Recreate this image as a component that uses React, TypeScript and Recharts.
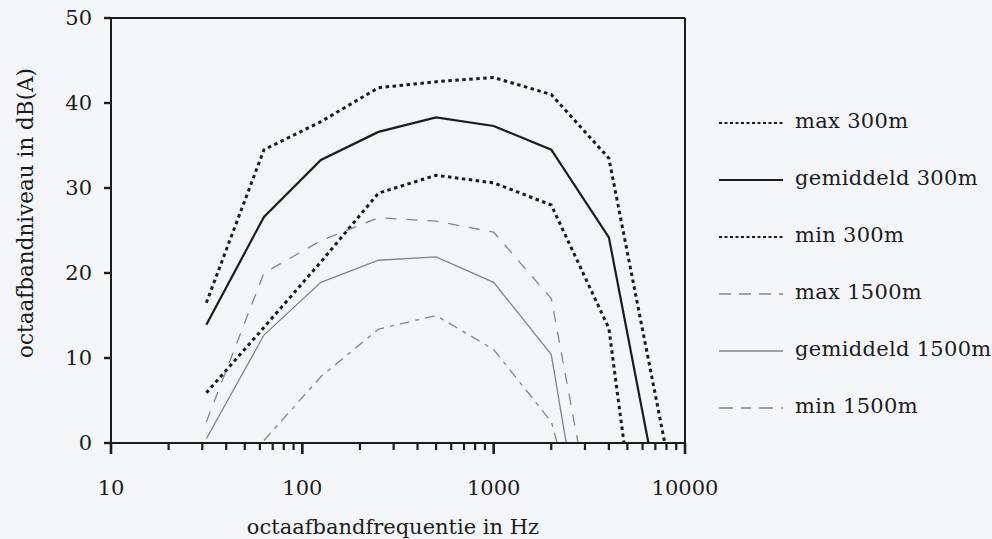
import { LineChart, Line, XAxis, YAxis, ReferenceLine, Label } from 'recharts';

// octave band centre frequencies (Hz)
const FREQS = [31.5, 63, 125, 250, 500, 1000, 2000, 4000, 8000];

// levels in dB(A); values below 0 run off the bottom of the plot
const MAX_300 = [16.5, 34.5, 37.8, 41.8, 42.5, 43, 41, 33.5, -1];
const MEAN_300 = [13.9, 26.6, 33.3, 36.6, 38.3, 37.3, 34.5, 24.2, -11];
const MIN_300 = [5.9, 13.6, 21.3, 29.4, 31.5, 30.6, 28, 13.5, -38];
const MAX_1500 = [2.5, 20, 23.8, 26.5, 26.1, 24.8, 17, -19.5, null];
const MEAN_1500 = [0.5, 12.7, 18.9, 21.5, 21.9, 18.9, 10.4, -29.6, null];
const MIN_1500 = [null, 0.3, 7.8, 13.4, 15, 11, 2.5, -21.7, null];

const Y_TICKS = [0, 10, 20, 30, 40, 50];
const DECADES = [10, 100, 1000, 10000];
const MINOR_STEPS = [2, 3, 4, 5, 6, 7, 8, 9];

const X_TICKS = DECADES.flatMap(d => (d === 10000 ? [d] : [d, ...MINOR_STEPS.map(m => d * m)]));

const FONT = '"DejaVu Serif", serif';
const INK = '#1c1c1c';
const GREY = '#858585';
const BG = '#f5f6fa';

// tick mark lengths, in axis units (8.5 px per dB, 191 px per decade)
const MAJOR_TICK_DB = 11 / 8.5;
const MINOR_TICK_DB = 7 / 8.5;
const Y_TICK_X = 10 * Math.pow(10, -7 / 191);

const chartData = FREQS.map((f, i) => ({
  f,
  max300: MAX_300[i],
  mean300: MEAN_300[i],
  min300: MIN_300[i],
  max1500: MAX_1500[i],
  mean1500: MEAN_1500[i],
  min1500: MIN_1500[i],
}));

interface SeriesStyle {
  key: string;
  name: string;
  stroke: string;
  width: number;
  dash?: string;
  legendWidth: number;
  legendDash?: string;
}

const SERIES: SeriesStyle[] = [
  { key: 'max300', name: 'max 300m', stroke: INK, width: 3, dash: '3.5 3.5', legendWidth: 2, legendDash: '3 2.5' },
  { key: 'mean300', name: 'gemiddeld 300m', stroke: INK, width: 2.2, legendWidth: 2.2 },
  { key: 'min300', name: 'min 300m', stroke: INK, width: 3, dash: '3.5 3.5', legendWidth: 2, legendDash: '3 2.5' },
  { key: 'max1500', name: 'max 1500m', stroke: GREY, width: 1.3, dash: '11 10', legendWidth: 1.3, legendDash: '12 8' },
  { key: 'mean1500', name: 'gemiddeld 1500m', stroke: GREY, width: 1.3, legendWidth: 1.5 },
  { key: 'min1500', name: 'min 1500m', stroke: GREY, width: 1.3, dash: '10 6 4 6', legendWidth: 1.3, legendDash: '14 8 10 8' },
];

interface TickProps {
  x?: number | string;
  y?: number | string;
  payload?: { value: number };
}

function FreqTick({ x = 0, y = 0, payload }: TickProps) {
  const v = payload?.value ?? 0;
  if (!DECADES.includes(v)) return <g />;
  return (
    <text x={Number(x)} y={Number(y) + 52} textAnchor="middle" fontSize={21} fontFamily={FONT} fill={INK}>
      {v}
    </text>
  );
}

function LevelTick({ x = 0, y = 0, payload }: TickProps) {
  return (
    <text
      x={Number(x) - 19}
      y={Number(y)}
      textAnchor="end"
      dominantBaseline="central"
      fontSize={21}
      fontFamily={FONT}
      fill={INK}
    >
      {payload?.value}
    </text>
  );
}

function YTitle() {
  return (
    <text
      x={25}
      y={213}
      transform="rotate(-90 25 213)"
      textAnchor="middle"
      dominantBaseline="central"
      fontSize={21.5}
      fontFamily={FONT}
      fill={INK}
    >
      octaafbandniveau in dB(A)
    </text>
  );
}

function XTitle() {
  return (
    <text x={393} y={534} textAnchor="middle" fontSize={21} fontFamily={FONT} fill={INK}>
      octaafbandfrequentie in Hz
    </text>
  );
}

function LegendList() {
  return (
    <div style={{ position: 'absolute', left: 718, top: 92, fontFamily: FONT, color: INK }}>
      {SERIES.map(s => (
        <div key={s.key} style={{ display: 'flex', alignItems: 'center', height: 57, whiteSpace: 'nowrap' }}>
          <svg width={66} height={10} style={{ marginRight: 11, marginTop: 4 }}>
            <line
              x1={1}
              x2={65}
              y1={5}
              y2={5}
              stroke={s.stroke}
              strokeWidth={s.legendWidth}
              strokeDasharray={s.legendDash}
            />
          </svg>
          <span style={{ fontSize: 21, lineHeight: '26px', letterSpacing: 0.3 }}>{s.name}</span>
        </div>
      ))}
    </div>
  );
}

export default function App() {
  return (
    <div style={{ position: 'absolute', left: 0, top: 0, width: 992, height: 539, background: BG }}>
      <LineChart
        width={992}
        height={539}
        data={chartData}
        margin={{ top: 18, right: 307, bottom: 36, left: 25 }}
      >
        <XAxis
          dataKey="f"
          type="number"
          scale="log"
          domain={[10, 10000]}
          ticks={X_TICKS}
          interval={0}
          height={60}
          tickSize={0}
          tickMargin={0}
          tickLine={false}
          tick={<FreqTick />}
          axisLine={{ stroke: INK, strokeWidth: 2 }}
          label={<Label content={<XTitle />} />}
        />
        <YAxis
          type="number"
          domain={[0, 50]}
          ticks={Y_TICKS}
          interval={0}
          allowDataOverflow
          width={86}
          tickSize={0}
          tickMargin={0}
          tickLine={false}
          tick={<LevelTick />}
          axisLine={{ stroke: INK, strokeWidth: 2 }}
          label={<Label content={<YTitle />} />}
        />
        <ReferenceLine y={50} stroke={INK} strokeWidth={2} />
        <ReferenceLine x={10000} stroke={INK} strokeWidth={2} />
        {X_TICKS.map(v => (
          <ReferenceLine
            key={`xt-${v}`}
            ifOverflow="visible"
            stroke={INK}
            strokeWidth={DECADES.includes(v) ? 2.6 : 2.2}
            segment={[
              { x: v, y: 0 },
              { x: v, y: -(DECADES.includes(v) ? MAJOR_TICK_DB : MINOR_TICK_DB) },
            ]}
          />
        ))}
        {Y_TICKS.map(v => (
          <ReferenceLine
            key={`yt-${v}`}
            ifOverflow="visible"
            stroke={INK}
            strokeWidth={2.4}
            segment={[
              { x: Y_TICK_X, y: v },
              { x: 10, y: v },
            ]}
          />
        ))}
        {SERIES.map(s => (
          <Line
            key={s.key}
            dataKey={s.key}
            name={s.name}
            stroke={s.stroke}
            strokeWidth={s.width}
            strokeDasharray={s.dash}
            dot={false}
            activeDot={false}
            connectNulls={false}
            isAnimationActive={false}
          />
        ))}
      </LineChart>
      <LegendList />
    </div>
  );
}
